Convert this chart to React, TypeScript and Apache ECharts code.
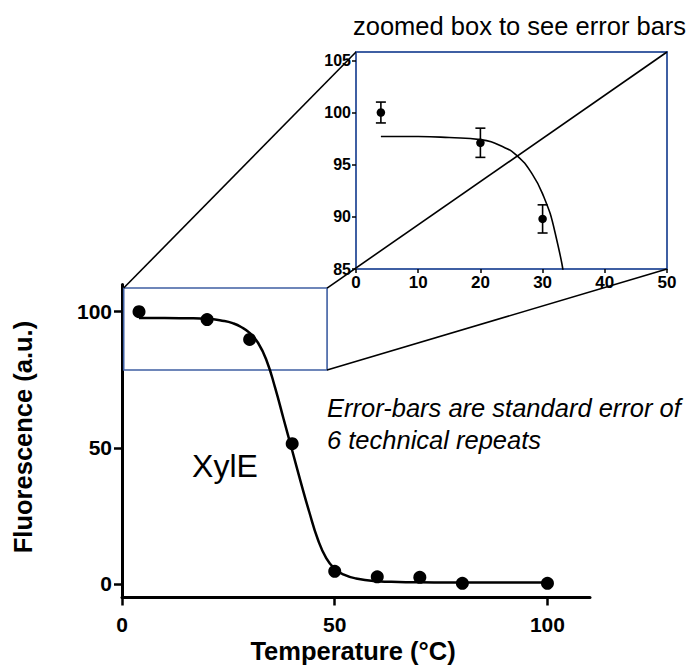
import React, { useEffect, useRef } from 'react';
import * as echarts from 'echarts';

// Main data (temperature in °C, fluorescence in a.u.)
const temperatures = [4, 20, 30, 40, 50, 60, 70, 80, 100];
const fluorescence = [100, 97.1, 89.8, 51.5, 4.6, 2.6, 2.4, 0.2, 0.2];

// Zoomed inset data with standard errors
const insetTemps = [4, 20, 30];
const insetMeans = [100, 97.1, 89.8];
const insetErrors = [1.0, 1.4, 1.35];

// Fitted curve
const fitX = [4, 10, 15, 20, 24, 26, 28, 30, 32, 34, 36, 38, 40, 42, 44, 46, 48, 50, 52, 55, 60, 65, 70, 80, 100];
const fitY = [97.7, 97.7, 97.6, 97.4, 96.6, 95.8, 94.4, 92.2, 88.5, 82, 72, 60.5, 49, 37.5, 26.5, 16.5, 9.5, 5.6, 3.5, 2, 1, 0.7, 0.6, 0.5, 0.5];

// Tick labels
const mainTicks = [0, 50, 100];
const insetXTicks = [0, 10, 20, 30, 40, 50];
const insetYTicks = [85, 90, 95, 100, 105];

// Zoom box drawn on the main chart (data coordinates)
const zoomBoxX = [0.4, 48.2];
const zoomBoxY = [78.6, 108.7];

const BLUE = '#3f5fa3';
const FONT = '"Liberation Sans", Arial, Helvetica, sans-serif';

export default function App() {
  const ref = useRef<HTMLDivElement>(null);
  useEffect(() => {
    document.body.style.margin = '0';
    const chart = echarts.init(ref.current!, null, { renderer: 'svg' });
    const boldLabel = (size: number) => ({ fontSize: size, fontWeight: 'bold', color: '#000', fontFamily: FONT });
    const option: any = {
      animation: false,
      backgroundColor: '#fff',
      grid: [
        { left: 122, top: 284.5, width: 468, height: 313 },
        { left: 356, top: 52, width: 311, height: 217, show: true, borderColor: BLUE, borderWidth: 2, backgroundColor: 'transparent' },
      ],
      xAxis: [
        {
          gridIndex: 0, type: 'value', min: 0, max: 110, interval: 10,
          axisLine: { show: true, onZero: false, lineStyle: { color: '#000', width: 3 } },
          axisTick: { show: true, customValues: mainTicks, length: 8, lineStyle: { color: '#000', width: 2.5 } },
          axisLabel: { customValues: mainTicks, margin: 16, ...boldLabel(21) },
          splitLine: { show: false },
        },
        {
          gridIndex: 1, type: 'value', min: 0, max: 50, interval: 10,
          axisLine: { show: true, onZero: false, lineStyle: { color: BLUE, width: 2 } },
          axisTick: { show: true, customValues: insetXTicks, length: 4, lineStyle: { color: '#000', width: 1.5 } },
          axisLabel: { customValues: insetXTicks, margin: 5, ...boldLabel(17) },
          splitLine: { show: false },
        },
      ],
      yAxis: [
        {
          gridIndex: 0, type: 'value', min: -5, max: 110, interval: 5,
          axisLine: { show: true, onZero: false, lineStyle: { color: '#000', width: 3 } },
          axisTick: { show: true, customValues: mainTicks, length: 8, lineStyle: { color: '#000', width: 2.5 } },
          axisLabel: { customValues: mainTicks, margin: 10, ...boldLabel(21) },
          splitLine: { show: false },
        },
        {
          gridIndex: 1, type: 'value', min: 85, max: 105.8, interval: 5,
          axisLine: { show: true, onZero: false, lineStyle: { color: BLUE, width: 2 } },
          axisTick: { show: true, customValues: insetYTicks, length: 4, lineStyle: { color: '#000', width: 1.5 } },
          axisLabel: { customValues: insetYTicks, margin: 5, ...boldLabel(16) },
          splitLine: { show: false },
        },
      ],
      series: [
        {
          type: 'line', xAxisIndex: 0, yAxisIndex: 0,
          data: fitX.map((x, i) => [x, fitY[i]]),
          smooth: true, showSymbol: false, symbol: 'none',
          lineStyle: { color: '#000', width: 2.5 }, z: 2,
          markArea: {
            silent: true,
            itemStyle: { color: 'rgba(0,0,0,0)', borderColor: BLUE, borderWidth: 1.6 },
            data: [[{ coord: [zoomBoxX[0], zoomBoxY[1]] }, { coord: [zoomBoxX[1], zoomBoxY[0]] }]],
          },
        },
        {
          type: 'scatter', xAxisIndex: 0, yAxisIndex: 0,
          data: temperatures.map((t, i) => [t, fluorescence[i]]),
          symbol: 'circle', symbolSize: 13, itemStyle: { color: '#000', opacity: 1 }, z: 3,
        },
        {
          type: 'line', xAxisIndex: 1, yAxisIndex: 1,
          data: fitX.map((x, i) => [x, fitY[i]]),
          smooth: true, showSymbol: false, symbol: 'none', clip: true,
          lineStyle: { color: '#000', width: 1.6 }, z: 2,
        },
        {
          type: 'custom', xAxisIndex: 1, yAxisIndex: 1,
          data: insetTemps.map((t, i) => [t, insetMeans[i] - insetErrors[i], insetMeans[i] + insetErrors[i]]),
          encode: { x: 0, y: [1, 2] },
          renderItem: (params: any, api: any) => {
            const x = api.value(0);
            const lo = api.coord([x, api.value(1)]);
            const hi = api.coord([x, api.value(2)]);
            const w = 5;
            const st = { stroke: '#000', lineWidth: 1.6 };
            return {
              type: 'group',
              children: [
                { type: 'line', shape: { x1: lo[0], y1: lo[1], x2: hi[0], y2: hi[1] }, style: st },
                { type: 'line', shape: { x1: lo[0] - w, y1: lo[1], x2: lo[0] + w, y2: lo[1] }, style: st },
                { type: 'line', shape: { x1: hi[0] - w, y1: hi[1], x2: hi[0] + w, y2: hi[1] }, style: st },
              ],
            };
          },
          z: 3,
        },
        {
          type: 'scatter', xAxisIndex: 1, yAxisIndex: 1,
          data: insetTemps.map((t, i) => [t, insetMeans[i]]),
          symbol: 'circle', symbolSize: 8.5, itemStyle: { color: '#000', opacity: 1 }, z: 4,
        },
      ],
    };
    chart.setOption(option);

    const pm = (pt: number[]) => chart.convertToPixel({ xAxisIndex: 0, yAxisIndex: 0 }, pt) as number[];
    const pi = (pt: number[]) => chart.convertToPixel({ xAxisIndex: 1, yAxisIndex: 1 }, pt) as number[];
    const conn = (a: number[], b: number[]) => ({
      type: 'line', z: 10, silent: true,
      shape: { x1: a[0], y1: a[1], x2: b[0], y2: b[1] },
      style: { stroke: '#000', lineWidth: 1.6 },
    });
    chart.setOption({
      graphic: [
        conn(pm([zoomBoxX[0], zoomBoxY[1]]), pi([0, 105.8])),
        conn(pm([zoomBoxX[1], zoomBoxY[1]]), pi([50, 105.8])),
        conn(pm([zoomBoxX[1], zoomBoxY[0]]), pi([50, 85])),
        {
          type: 'text', x: 353, y: 26, z: 10,
          style: { text: 'zoomed box to see error bars', fontSize: 25.5, fontFamily: FONT, fill: '#000', align: 'left', verticalAlign: 'middle' },
        },
        {
          type: 'text', x: 327, y: 408, z: 10,
          style: { text: 'Error-bars are standard error of', fontSize: 25.5, fontStyle: 'italic', fontFamily: FONT, fill: '#000', align: 'left', verticalAlign: 'middle' },
        },
        {
          type: 'text', x: 327, y: 439.5, z: 10,
          style: { text: '6 technical repeats', fontSize: 25.5, fontStyle: 'italic', fontFamily: FONT, fill: '#000', align: 'left', verticalAlign: 'middle' },
        },
        {
          type: 'text', x: 225, y: 466, z: 10,
          style: { text: 'XylE', fontSize: 32, fontFamily: FONT, fill: '#000', align: 'center', verticalAlign: 'middle' },
        },
        {
          type: 'text', x: 353, y: 651, z: 10,
          style: { text: 'Temperature (°C)', fontSize: 25.5, fontWeight: 'bold', fontFamily: FONT, fill: '#000', align: 'center', verticalAlign: 'middle' },
        },
        {
          type: 'text', x: 23, y: 437, rotation: Math.PI / 2, z: 10,
          style: { text: 'Fluorescence (a.u.)', fontSize: 25.5, fontWeight: 'bold', fontFamily: FONT, fill: '#000', align: 'center', verticalAlign: 'middle' },
        },
      ],
    });
    return () => chart.dispose();
  }, []);
  return <div ref={ref} style={{ width: 692, height: 669 }} />;
}
